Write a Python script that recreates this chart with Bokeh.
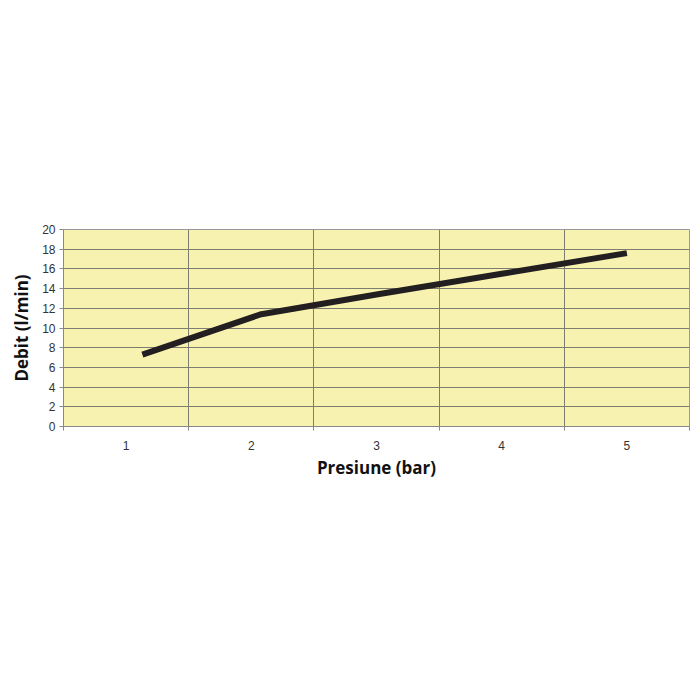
from bokeh.plotting import figure
from bokeh.models import Range1d, FixedTicker
from bokeh.embed import file_html
from bokeh.resources import INLINE

# Data
pressure = [1.13, 2.08, 3, 4, 5]
flow = [7.3, 11.4, 13.4, 15.5, 17.6]
x_ticks = [1, 2, 3, 4, 5]
x_bounds = [0.5, 1.5, 2.5, 3.5, 4.5, 5.5]
y_ticks = [0, 2, 4, 6, 8, 10, 12, 14, 16, 18, 20]

p = figure(width=692, height=692, output_backend="svg", toolbar_location=None,
           x_range=Range1d(0.5, 5.5), y_range=Range1d(0, 20),
           min_border_left=63, min_border_right=3, min_border_top=229,
           min_border_bottom=266)

p.background_fill_color = "#F8F2B0"
p.border_fill_color = "white"
p.outline_line_color = "#9a9a9a"
p.outline_line_width = 1

p.line(pressure, flow, line_color="#231F20", line_width=6)

# axes
p.xaxis.ticker = FixedTicker(ticks=x_ticks, minor_ticks=x_bounds)
p.yaxis.ticker = FixedTicker(ticks=y_ticks, minor_ticks=[])
p.xgrid.ticker = FixedTicker(ticks=x_bounds[1:-1])
p.ygrid.ticker = FixedTicker(ticks=y_ticks[1:-1])
p.xgrid.grid_line_color = "#7d7d70"
p.ygrid.grid_line_color = "#7d7d70"
p.xgrid.grid_line_width = 1
p.ygrid.grid_line_width = 1

for ax in (p.xaxis[0], p.yaxis[0]):
    ax.axis_line_color = "#888888"
    ax.major_label_text_font = "Liberation Sans"
    ax.major_label_text_font_size = "12px"
    ax.major_label_text_color = "#333333"
    ax.axis_label_text_font = "Open Sans"
    ax.axis_label_text_font_style = "bold"
    ax.axis_label_text_font_size = "17px"
    ax.axis_label_text_color = "#111111"

p.xaxis.major_tick_out = 0
p.xaxis.major_tick_in = 0
p.xaxis.minor_tick_out = 4
p.xaxis.minor_tick_in = 0
p.xaxis.minor_tick_line_color = "#888888"
p.xaxis.major_label_standoff = 10
p.xaxis.axis_label = "Presiune (bar)"
p.xaxis.axis_label_standoff = 3

p.yaxis.major_tick_out = 4
p.yaxis.major_tick_in = 0
p.yaxis.major_tick_line_color = "#888888"
p.yaxis.minor_tick_out = 0
p.yaxis.minor_tick_in = 0
p.yaxis.major_label_standoff = 4
p.yaxis.axis_label = "Debit (l/min)"
p.yaxis.axis_label_standoff = 6

open("out.html", "w").write(file_html(p, INLINE))
